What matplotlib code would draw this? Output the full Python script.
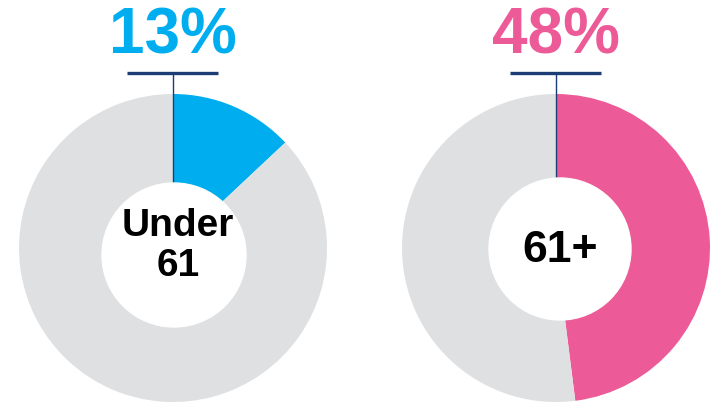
import matplotlib
matplotlib.use("Agg")
from matplotlib import pyplot as plt
import matplotlib.patches as mpatches

# dados
grupos = ["Under\n61", "61+"]
percentuais = [13, 48]
cores = ["#00AEEF", "#EC5B97"]
cinza = "#DFE0E2"
azul_escuro = "#1B3D73"

W, H = 712, 404
fig = plt.figure(figsize=(W / 100, H / 100), dpi=100)
ax = fig.add_axes([0, 0, 1, 1])

# posicoes (pixels da imagem, y de cima para baixo)
centros = [(173, 248), (556, 248)]
buracos = [(174, 255, 72), (560, 249, 71)]
textos_centro = [(178, 246, 28), (560, 250, 32)]
raio = 154

for i in range(2):
    cx, cy = centros[i]
    p = percentuais[i]
    ax.pie([p, 100 - p], center=(cx, H - cy), radius=raio, startangle=90,
           counterclock=False, colors=[cores[i], cinza],
           wedgeprops=dict(linewidth=0))
    bx, by, br = buracos[i]
    ax.add_patch(mpatches.Circle((bx, H - by), br, color="white", zorder=3))
    # linha horizontal e vertical
    ax.plot([cx - 46, cx + 45], [H - 73, H - 73], color=azul_escuro, lw=2.4,
            solid_capstyle="butt", zorder=4)
    ax.plot([cx, cx], [H - 73, H - (by - br)], color=azul_escuro, lw=1.0, zorder=2.5)
    # percentual
    ax.text(cx, H - 54, f"{p}%", color=cores[i], fontsize=46, fontweight="bold",
            family="Liberation Sans", ha="center", va="baseline", zorder=5)
    tx, ty, fs = textos_centro[i]
    ax.text(tx, H - ty, grupos[i], color="black", fontsize=fs, fontweight="bold",
            family="Liberation Sans", ha="center", va="center", linespacing=1.12,
            zorder=5)

ax.set_xlim(0, W)
ax.set_ylim(0, H)
ax.set_aspect("equal")
ax.axis("off")

fig.savefig("out.png", dpi=100)
